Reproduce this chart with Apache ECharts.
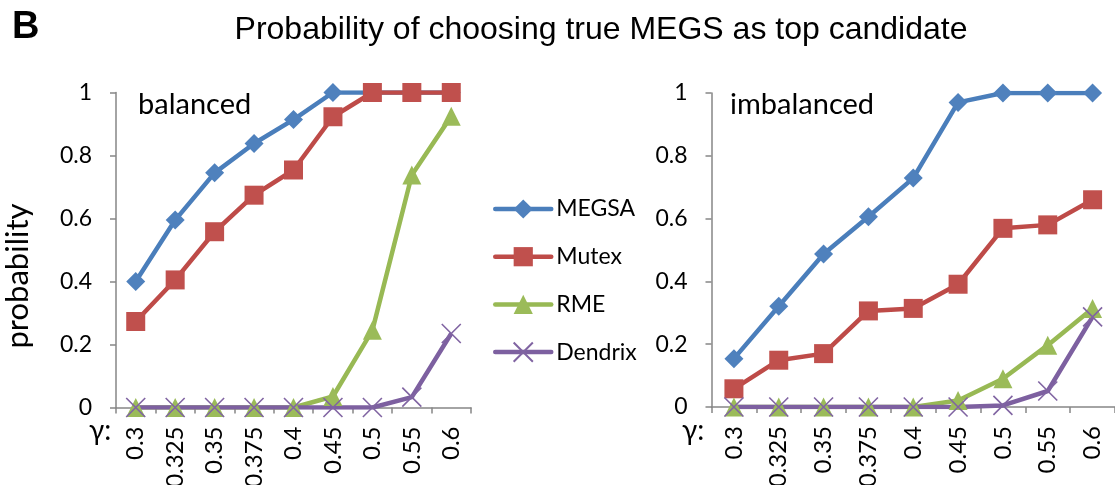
<!DOCTYPE html>
<html>
<head>
<meta charset="utf-8">
<script src="https://cdn.jsdelivr.net/npm/echarts@6/dist/echarts.min.js"></script>
<style>
  html, body { margin: 0; padding: 0; background: #fff; }
  #chart { width: 1115px; height: 485px; }
</style>
</head>
<body>
<div id="chart"></div>
<script>
const gammas = ["0.3", "0.325", "0.35", "0.375", "0.4", "0.45", "0.5", "0.55", "0.6"];
const yTicks = [0, 0.2, 0.4, 0.6, 0.8, 1];

// balanced panel
const balancedMEGSA = [0.40, 0.595, 0.745, 0.838, 0.914, 1, 1, 1, 1];
const balancedMutex = [0.273, 0.405, 0.558, 0.674, 0.754, 0.923, 1, 1, 1];
const balancedRME = [0, 0, 0, 0, 0, 0.035, 0.245, 0.738, 0.925];
const balancedDendrix = [0, 0, 0, 0, 0, 0, 0, 0.033, 0.235];

// imbalanced panel
const imbalancedMEGSA = [0.154, 0.321, 0.487, 0.606, 0.729, 0.97, 1, 1, 1];
const imbalancedMutex = [0.058, 0.149, 0.17, 0.306, 0.314, 0.391, 0.569, 0.58, 0.66];
const imbalancedRME = [0, 0, 0, 0, 0, 0.021, 0.09, 0.197, 0.314];
const imbalancedDendrix = [0, 0, 0, 0, 0, 0, 0.005, 0.051, 0.287];

const methods = ["MEGSA", "Mutex", "RME", "Dendrix"];

const chart = echarts.init(document.getElementById("chart"));

const labelFont = "Lato";
const axisGrey = "#868686";

const styles = {
  MEGSA: { line: "#4A7EBB", fill: "#4F81BD", symbol: "diamond", size: 19 },
  Mutex: { line: "#BE4B48", fill: "#C0504D", symbol: "rect", size: 19 },
  RME: { line: "#98B954", fill: "#9BBB59", symbol: "triangle", size: 19 },
  Dendrix: { line: "#7D60A0", fill: "#8064A2", symbol: "path://M0,0L10,10M10,0L0,10", size: 19 },
};

function makeSeries(name, data, idx) {
  const s = styles[name];
  const item = { color: s.fill };
  if (name === "Dendrix") {
    item.borderColor = s.fill;
    item.borderWidth = 1.6;
  }
  return {
    name: name,
    type: "line",
    xAxisIndex: idx,
    yAxisIndex: idx,
    data: data,
    symbol: s.symbol,
    symbolSize: s.size,
    showAllSymbol: true,
    clip: true,
    lineStyle: { color: s.line, width: 4.5 },
    itemStyle: item,
    emphasis: { disabled: true },
    animation: false,
  };
}

function makeXAxis(idx) {
  return {
    type: "category",
    gridIndex: idx,
    data: gammas,
    boundaryGap: true,
    axisLine: { lineStyle: { color: axisGrey, width: 1.5 } },
    axisTick: { show: true, length: 6, lineStyle: { color: axisGrey, width: 1.5 } },
    axisLabel: {
      rotate: 90,
      margin: 19,
      fontSize: 24,
      fontFamily: labelFont,
      color: "#000",
    },
    splitLine: { show: false },
  };
}

function makeYAxis(idx) {
  return {
    type: "value",
    gridIndex: idx,
    min: yTicks[0],
    max: yTicks[yTicks.length - 1],
    interval: 0.2,
    axisLine: { show: true, lineStyle: { color: axisGrey, width: 1.5 } },
    axisTick: { show: true, length: 6, lineStyle: { color: axisGrey, width: 1.5 } },
    axisLabel: {
      margin: 24,
      fontSize: 23,
      fontFamily: labelFont,
      color: "#000",
    },
    splitLine: { show: false },
  };
}

const option = {
  backgroundColor: "#fff",
  animation: false,
  title: [
    {
      text: "Probability of choosing true MEGS as top candidate",
      left: 596,
      top: 9,
      textAlign: "center",
      textStyle: { fontFamily: "Liberation Sans", fontWeight: "normal", fontSize: 32, color: "#000" },
    },
    {
      text: "B",
      left: 7,
      top: 4,
      textStyle: { fontFamily: "Liberation Sans", fontWeight: "bold", fontSize: 38, color: "#000" },
    },
  ],
  legend: {
    data: methods,
    orient: "vertical",
    left: 493,
    top: 197,
    padding: 0,
    itemWidth: 56,
    itemHeight: 24,
    itemGap: 23.7,
    lineStyle: { width: 4.5, cap: "round" },
    textStyle: { fontSize: 23, lineHeight: 24, fontFamily: labelFont, color: "#000" },
  },
  grid: [
    { left: 116, top: 92.5, width: 355, height: 315, outerBoundsMode: "none", containLabel: false },
    { left: 711.5, top: 93, width: 403.5, height: 314, outerBoundsMode: "none", containLabel: false },
  ],
  xAxis: [makeXAxis(0), makeXAxis(1)],
  yAxis: [makeYAxis(0), makeYAxis(1)],
  graphic: [
    {
      type: "text",
      x: 18,
      y: 276,
      rotation: Math.PI / 2,
      style: { text: "probability", fontSize: 31, fontFamily: labelFont, fill: "#000", align: "center", verticalAlign: "middle" },
    },
    { type: "text", left: 138, top: 90, style: { text: "balanced", fontSize: 29, fontFamily: labelFont, fill: "#000" } },
    { type: "text", left: 730, top: 90, style: { text: "imbalanced", fontSize: 29, fontFamily: labelFont, fill: "#000" } },
    { type: "text", left: 89, top: 417, style: { text: "γ:", fontSize: 28, fontFamily: labelFont, fill: "#000" } },
    { type: "text", left: 682, top: 417, style: { text: "γ:", fontSize: 28, fontFamily: labelFont, fill: "#000" } },
  ],
  series: [
    makeSeries("MEGSA", balancedMEGSA, 0),
    makeSeries("Mutex", balancedMutex, 0),
    makeSeries("RME", balancedRME, 0),
    makeSeries("Dendrix", balancedDendrix, 0),
    makeSeries("MEGSA", imbalancedMEGSA, 1),
    makeSeries("Mutex", imbalancedMutex, 1),
    makeSeries("RME", imbalancedRME, 1),
    makeSeries("Dendrix", imbalancedDendrix, 1),
  ],
};

chart.setOption(option);
</script>
</body>
</html>
